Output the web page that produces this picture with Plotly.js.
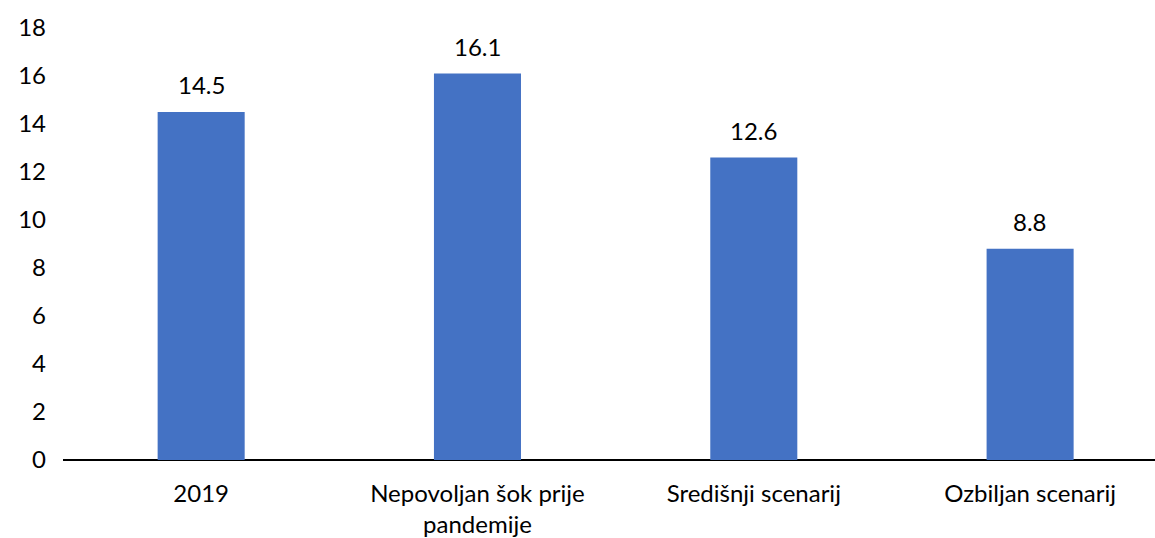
<!DOCTYPE html>
<html>
<head>
<meta charset="utf-8">
<script src="https://cdn.plot.ly/plotly-3.0.1.min.js"></script>
<style>html,body{margin:0;padding:0;background:#fff;}#chart{width:1155px;height:538px;}</style>
</head>
<body>
<div id="chart"></div>
<script>
const categories = ["2019", "Nepovoljan šok prije<br>pandemije", "Središnji scenarij", "Ozbiljan scenarij"];
const values = [14.5, 16.1, 12.6, 8.8];
const valueLabels = ["14.5", "16.1", "12.6", "8.8"];
const yTicks = [0, 2, 4, 6, 8, 10, 12, 14, 16, 18];

const font = {family: "Lato, 'Open Sans', sans-serif", size: 24, color: "#000"};

const trace = {
  type: "bar",
  x: categories,
  y: values,
  marker: {color: "#4472C4"},
  hoverinfo: "skip"
};

const annotations = categories.map((c, i) => ({
  x: i, y: values[i], text: valueLabels[i],
  xref: "x", yref: "y",
  showarrow: false, yanchor: "bottom", yshift: 11,
  font: font
}));

const layout = {
  width: 1155, height: 538,
  margin: {l: 63, r: 0, t: 28, b: 78},
  paper_bgcolor: "#fff", plot_bgcolor: "#fff",
  showlegend: false,
  bargap: 0.685,
  font: font,
  xaxis: {
    type: "category",
    range: [-0.5, 3.452],
    showgrid: false, zeroline: false,
    showline: false,
    ticks: "", tickfont: font,
    ticklabelstandoff: 17,
    fixedrange: true
  },
  yaxis: {
    range: [0, 18],
    tickvals: yTicks,
    ticktext: yTicks.map(String),
    showgrid: false,
    zeroline: true, zerolinecolor: "#000", zerolinewidth: 1.5,
    showline: false, ticks: "",
    ticklabelstandoff: 16,
    tickfont: font,
    fixedrange: true
  },
  annotations: annotations
};

Plotly.newPlot("chart", [trace], layout, {displayModeBar: false, staticPlot: true});
</script>
</body>
</html>
